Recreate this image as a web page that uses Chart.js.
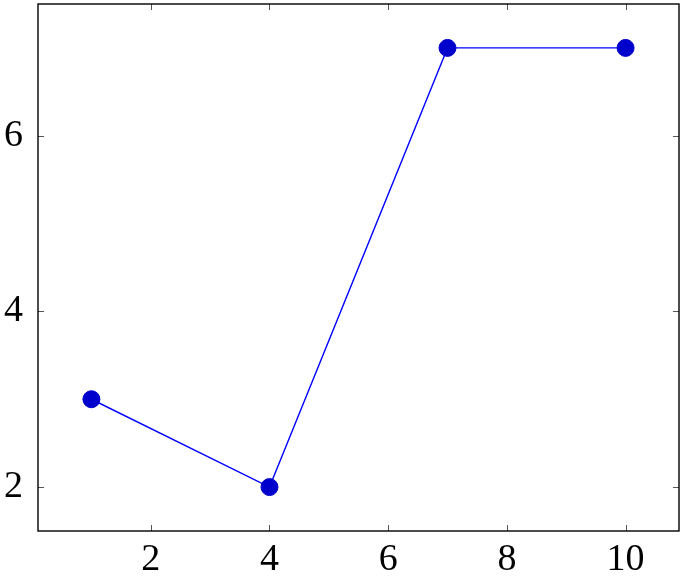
<!DOCTYPE html>
<html>
<head>
<meta charset="utf-8">
<script src="https://cdn.jsdelivr.net/npm/chart.js@4"></script>
<style>
  html, body { margin: 0; padding: 0; background: #ffffff; }
  #wrap { width: 684px; height: 578px; position: relative; }
</style>
</head>
<body>
<div id="wrap"><canvas id="c"></canvas></div>
<script>
const xValues = [1, 4, 7, 10];
const yValues = [3, 2, 7, 7];
const xTickValues = [2, 4, 6, 8, 10];
const yTickValues = [2, 4, 6];
const xRange = [0.1, 10.9];
const yRange = [1.5, 7.5];

const points = xValues.map((x, i) => ({ x: x, y: yValues[i] }));

const frameAndTicks = {
  id: 'frameAndTicks',
  afterDatasetsDraw(chart) {
    const ctx = chart.ctx;
    const a = chart.chartArea;
    const xs = chart.scales.x, ys = chart.scales.y;
    const len = 6;
    ctx.save();
    ctx.strokeStyle = '#555555';
    ctx.lineWidth = 1;
    ctx.beginPath();
    xTickValues.forEach(v => {
      const px = Math.round(xs.getPixelForValue(v)) + 0.5;
      ctx.moveTo(px, a.bottom); ctx.lineTo(px, a.bottom - len);
      ctx.moveTo(px, a.top); ctx.lineTo(px, a.top + len);
    });
    yTickValues.forEach(v => {
      const py = Math.round(ys.getPixelForValue(v)) + 0.5;
      ctx.moveTo(a.left, py); ctx.lineTo(a.left + len, py);
      ctx.moveTo(a.right, py); ctx.lineTo(a.right - len, py);
    });
    ctx.stroke();
    ctx.strokeStyle = '#000000';
    ctx.lineWidth = 1.4;
    ctx.strokeRect(a.left, a.top, a.right - a.left, a.bottom - a.top);
    ctx.restore();
  }
};

new Chart(document.getElementById('c'), {
  type: 'line',
  data: {
    datasets: [{
      data: points,
      borderColor: '#0000ff',
      borderWidth: 1.4,
      pointBackgroundColor: '#0000cc',
      pointBorderColor: '#0000cc',
      pointBorderWidth: 1,
      pointRadius: 8.5,
      pointHoverRadius: 8.5,
      tension: 0,
      fill: false,
      clip: false
    }]
  },
  options: {
    responsive: true,
    maintainAspectRatio: false,
    animation: false,
    events: [],
    layout: { autoPadding: false, padding: { top: 4, right: 5, left: 0, bottom: 0 } },
    plugins: { legend: { display: false }, tooltip: { enabled: false } },
    scales: {
      x: {
        type: 'linear',
        min: xRange[0], max: xRange[1],
        afterBuildTicks: s => { s.ticks = xTickValues.map(v => ({ value: v })); },
        afterFit: s => { s.height = 47; s.paddingLeft = 0; s.paddingRight = 0; },
        grid: { display: false, drawTicks: false },
        border: { display: false },
        ticks: {
          color: '#000000',
          padding: 6,
          maxRotation: 0,
          autoSkip: false,
          font: { family: 'Liberation Serif', size: 38 }
        }
      },
      y: {
        type: 'linear',
        min: yRange[0], max: yRange[1],
        afterBuildTicks: s => { s.ticks = yTickValues.map(v => ({ value: v })); },
        afterFit: s => { s.width = 38; s.paddingTop = 0; s.paddingBottom = 0; },
        grid: { display: false, drawTicks: false },
        border: { display: false },
        ticks: {
          color: '#000000',
          padding: 15,
          autoSkip: false,
          font: { family: 'Liberation Serif', size: 38 }
        }
      }
    }
  },
  plugins: [frameAndTicks]
});
</script>
</body>
</html>
